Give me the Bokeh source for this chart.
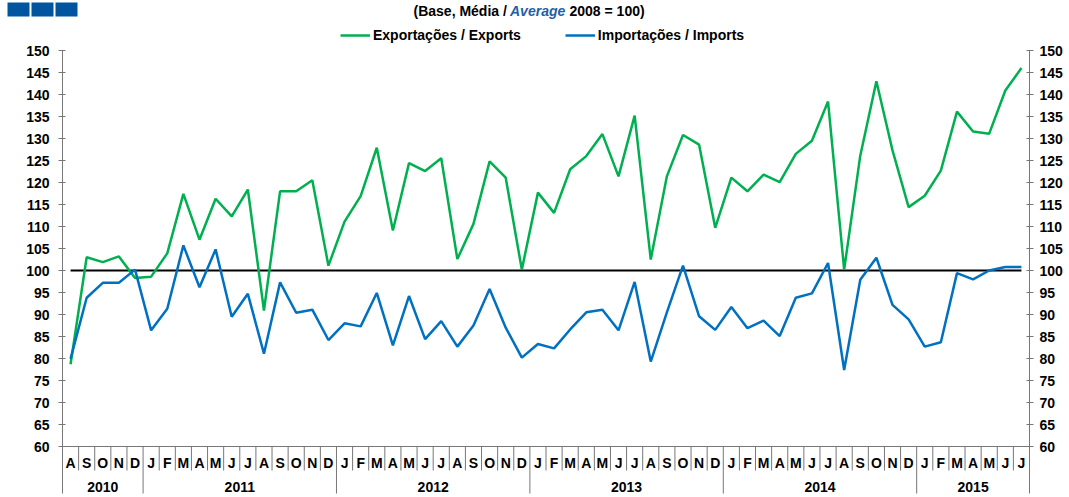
from bokeh.plotting import figure
from bokeh.models import (Range1d, LinearAxis, FixedTicker, Legend, LegendItem,
                          ColumnDataSource, Label)
from bokeh.core.properties import value
from bokeh.embed import file_html
from bokeh.resources import INLINE

# ---------------- data ----------------
months = ["A", "S", "O", "N", "D",
          "J", "F", "M", "A", "M", "J", "J", "A", "S", "O", "N", "D",
          "J", "F", "M", "A", "M", "J", "J", "A", "S", "O", "N", "D",
          "J", "F", "M", "A", "M", "J", "J", "A", "S", "O", "N", "D",
          "J", "F", "M", "A", "M", "J", "J", "A", "S", "O", "N", "D",
          "J", "F", "M", "A", "M", "J", "J"]
years = ["2010", "2011", "2012", "2013", "2014", "2015"]
months_per_year = [5, 12, 12, 12, 12, 7]

exports = [78.7, 103.0, 101.9, 103.2, 98.3,
           98.6, 103.9, 117.4, 107.0, 116.3, 112.3, 118.4, 90.9, 118.0, 118.0, 120.5, 101.1,
           111.1, 116.9, 127.9, 109.1, 124.4, 122.6, 125.5, 102.6, 110.6, 124.8, 121.1, 100.2,
           117.7, 113.1, 123.0, 126.0, 131.0, 121.4, 135.2, 102.5, 121.4, 130.8, 128.6, 109.7,
           121.1, 118.0, 121.8, 120.1, 126.5, 129.5, 138.4, 100.2, 126.1, 143.0, 127.3, 114.4,
           117.0, 122.7, 136.1, 131.6, 131.1, 140.9, 146.0]
imports = [79.9, 93.8, 97.2, 97.2, 100.2,
           86.4, 91.3, 105.7, 96.2, 104.8, 89.5, 94.7, 81.1, 97.3, 90.4, 91.1, 84.2,
           88.0, 87.3, 94.9, 83.0, 94.2, 84.4, 88.5, 82.7, 87.5, 95.8, 87.0, 80.2,
           83.3, 82.3, 86.6, 90.5, 91.1, 86.4, 97.4, 79.3, 90.5, 101.1, 89.6, 86.5,
           91.7, 86.9, 88.6, 85.1, 93.8, 94.8, 101.7, 77.4, 97.9, 102.9, 92.2, 88.9,
           82.7, 83.7, 99.4, 98.0, 100.0, 100.8, 100.8]
base_value = 100
y_ticks = list(range(60, 151, 5))

# ---------------- layout / style ----------------
FONT = "Liberation Sans"
GREEN = "#00B050"
BLUE = "#0070C0"
AXIS_GRAY = "#777777"
W, H = 1069, 497
AX_LEFT, AX_RIGHT = 62, 1029          # canvas px of the two value axes
AX_TOP, AX_BASE = 50, 446             # canvas px of 150 and 60
n = len(months)
x_px = (AX_RIGHT - AX_LEFT) / n
y_px = (AX_BASE - AX_TOP) / (y_ticks[-1] - y_ticks[0])


def dx(px):
    return -0.5 + (px - AX_LEFT) / x_px


def dy(py):
    return y_ticks[-1] - (py - AX_TOP) / y_px


idx = list(range(n))
x_lo, x_hi = -0.5, n - 0.5

p = figure(width=W, height=H, x_range=Range1d(dx(0), dx(W)), y_range=Range1d(dy(H), dy(0)),
           x_axis_location=None, y_axis_location=None, toolbar_location=None,
           min_border=0, outline_line_color=None, output_backend="svg")
p.grid.visible = False

for loc, fx in [("left", x_lo), ("right", x_hi)]:
    ax = LinearAxis(ticker=FixedTicker(ticks=y_ticks, minor_ticks=[]),
                    fixed_location=fx, bounds=(dy(493), y_ticks[-1]),
                    axis_line_color=AXIS_GRAY, major_tick_line_color=AXIS_GRAY,
                    major_tick_in=3, major_tick_out=4,
                    major_label_standoff=9 if loc == "left" else 6,
                    major_label_text_font=FONT, major_label_text_font_size="14px",
                    major_label_text_font_style="bold", major_label_text_color="black")
    p.add_layout(ax, loc)

# category axis baseline
p.line(x=[x_lo, x_hi], y=[y_ticks[0], y_ticks[0]], line_color=AXIS_GRAY, line_width=1)

# separators
year_bounds = []
acc = 0
for c in months_per_year[:-1]:
    acc += c
    year_bounds.append(acc - 0.5)
month_bounds = [i + 0.5 for i in idx[:-1] if (i + 0.5) not in year_bounds]
p.segment(x0=month_bounds, y0=[y_ticks[0]] * len(month_bounds), x1=month_bounds,
          y1=[dy(470)] * len(month_bounds), line_color=AXIS_GRAY, line_width=1)
p.segment(x0=year_bounds, y0=[y_ticks[0]] * len(year_bounds), x1=year_bounds,
          y1=[dy(493)] * len(year_bounds), line_color=AXIS_GRAY, line_width=1)

# month labels
p.text(x=idx, y=[dy(462)] * n, text=months, text_font=value(FONT),
       text_font_size="14px", text_font_style="bold", text_align="center",
       text_baseline="middle", text_color="black")

# year labels
year_centers = []
acc = 0
for c in months_per_year:
    year_centers.append(acc + (c - 1) / 2)
    acc += c
p.text(x=year_centers, y=[dy(486)] * len(years), text=years, text_font=value(FONT),
       text_font_size="14px", text_font_style="bold", text_align="center",
       text_baseline="middle", text_color="black")

# base line 100
p.line(x=[idx[0], idx[-1]], y=[base_value, base_value], line_color="black", line_width=2)

src = ColumnDataSource(dict(x=idx, exp=exports, imp=imports))
r_e = p.line("x", "exp", source=src, line_color=GREEN, line_width=2.5)
r_i = p.line("x", "imp", source=src, line_color=BLUE, line_width=2.5)

# ---------------- header ----------------
p.quad(left=[dx(7), dx(31), dx(55)], right=[dx(29), dx(53), dx(77)],
       top=[dy(2)] * 3, bottom=[dy(16)] * 3, fill_color="#00559F", line_color=None)

sub_x = 413
for txt, off, style, col in [("(Base, Média /", 0, "bold", "black"),
                             ("Average", 96.5, "bold italic", "#1F5FA6"),
                             ("2008 = 100)", 156.0, "bold", "black")]:
    p.add_layout(Label(x=sub_x + off, y=H - 10, x_units="screen", y_units="screen", text=txt,
                       text_font=FONT, text_font_size="14px", text_font_style=style,
                       text_color=col, text_align="left", text_baseline="middle"))

legend = Legend(items=[LegendItem(label="Exportações / Exports", renderers=[r_e]),
                       LegendItem(label="Importações / Imports", renderers=[r_i])],
                orientation="horizontal", location=(340, H - 43),
                label_text_font=FONT, label_text_font_size="14px",
                label_text_font_style="bold", label_text_color="black",
                glyph_width=30, glyph_height=16, label_height=16, label_standoff=3,
                spacing=44, padding=0, margin=0,
                border_line_alpha=0, background_fill_alpha=0)
p.add_layout(legend)

open("out.html", "w").write(file_html(p, INLINE))
